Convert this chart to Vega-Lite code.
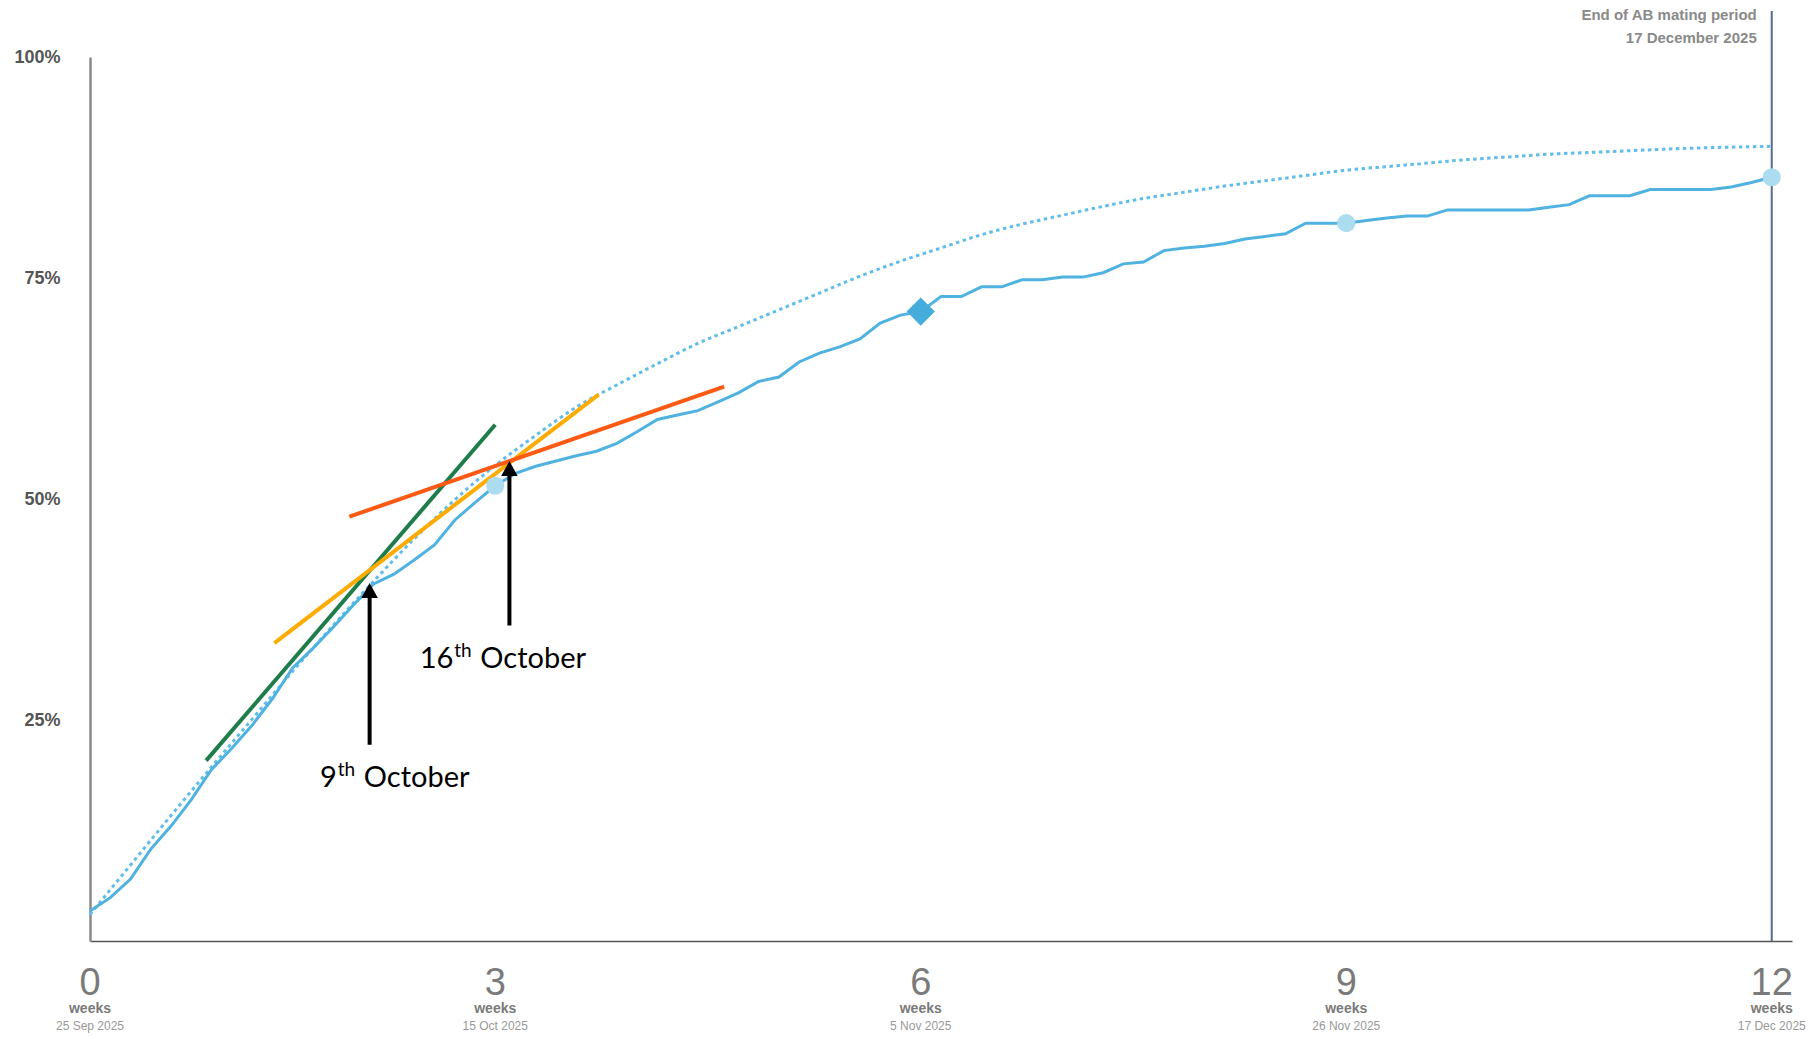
{
  "$schema": "https://vega.github.io/schema/vega-lite/v6.json",
  "width": 1702,
  "height": 884,
  "autosize": {"type": "none"},
  "padding": {"left": 90, "top": 57, "right": 24, "bottom": 96},
  "background": "white",
  "config": {"view": {"stroke": null}},
  "datasets": {
    "projected": [
      {"day": 0, "pct": 3.0}, {"day": 2, "pct": 8.6}, {"day": 4, "pct": 14.2}, {"day": 6, "pct": 19.7},
      {"day": 8, "pct": 25.1}, {"day": 10, "pct": 30.5}, {"day": 12, "pct": 35.7}, {"day": 14, "pct": 40.7},
      {"day": 16, "pct": 45.5}, {"day": 18, "pct": 49.9}, {"day": 20, "pct": 53.8}, {"day": 22, "pct": 57.2},
      {"day": 24, "pct": 60.4}, {"day": 26, "pct": 62.9}, {"day": 28, "pct": 65.3}, {"day": 30, "pct": 67.6},
      {"day": 32, "pct": 69.5}, {"day": 34, "pct": 71.4}, {"day": 36, "pct": 73.3}, {"day": 38, "pct": 75.2},
      {"day": 40, "pct": 76.9}, {"day": 42, "pct": 78.4}, {"day": 44, "pct": 79.9}, {"day": 46, "pct": 81.1},
      {"day": 48, "pct": 82.1}, {"day": 50, "pct": 83.1}, {"day": 52, "pct": 84.0}, {"day": 54, "pct": 84.7},
      {"day": 56, "pct": 85.4}, {"day": 58, "pct": 86.0}, {"day": 60, "pct": 86.6}, {"day": 62, "pct": 87.2},
      {"day": 64, "pct": 87.6}, {"day": 66, "pct": 88.0}, {"day": 68, "pct": 88.4}, {"day": 70, "pct": 88.7},
      {"day": 72, "pct": 89.0}, {"day": 74, "pct": 89.2}, {"day": 76, "pct": 89.4}, {"day": 78, "pct": 89.6},
      {"day": 80, "pct": 89.75}, {"day": 82, "pct": 89.85}, {"day": 83, "pct": 89.9}
    ],
    "observed": [
      {"day": 0, "pct": 3.4}, {"day": 1, "pct": 4.9}, {"day": 2, "pct": 7.0}, {"day": 3, "pct": 10.4},
      {"day": 4, "pct": 13.0}, {"day": 5, "pct": 16.0}, {"day": 6, "pct": 19.4}, {"day": 7, "pct": 21.8},
      {"day": 8, "pct": 24.4}, {"day": 9, "pct": 27.4}, {"day": 10, "pct": 30.9}, {"day": 11, "pct": 33.1},
      {"day": 12, "pct": 35.5}, {"day": 13, "pct": 38.0}, {"day": 14, "pct": 40.4}, {"day": 15, "pct": 41.5},
      {"day": 16, "pct": 43.1}, {"day": 17, "pct": 44.8}, {"day": 18, "pct": 47.6}, {"day": 19, "pct": 49.6},
      {"day": 20, "pct": 51.5}, {"day": 21, "pct": 52.9}, {"day": 22, "pct": 53.7}, {"day": 23, "pct": 54.3},
      {"day": 24, "pct": 54.9}, {"day": 25, "pct": 55.4}, {"day": 26, "pct": 56.3}, {"day": 27, "pct": 57.6},
      {"day": 28, "pct": 59.0}, {"day": 29, "pct": 59.5}, {"day": 30, "pct": 60.0}, {"day": 31, "pct": 61.0},
      {"day": 32, "pct": 62.0}, {"day": 33, "pct": 63.3}, {"day": 34, "pct": 63.8}, {"day": 35, "pct": 65.5},
      {"day": 36, "pct": 66.5}, {"day": 37, "pct": 67.2}, {"day": 38, "pct": 68.1}, {"day": 39, "pct": 69.9},
      {"day": 40, "pct": 70.8}, {"day": 41, "pct": 71.2}, {"day": 42, "pct": 72.9}, {"day": 43, "pct": 72.9},
      {"day": 44, "pct": 74.0}, {"day": 45, "pct": 74.0}, {"day": 46, "pct": 74.8}, {"day": 47, "pct": 74.8},
      {"day": 48, "pct": 75.1}, {"day": 49, "pct": 75.1}, {"day": 50, "pct": 75.6}, {"day": 51, "pct": 76.6},
      {"day": 52, "pct": 76.8}, {"day": 53, "pct": 78.1}, {"day": 54, "pct": 78.4}, {"day": 55, "pct": 78.6},
      {"day": 56, "pct": 78.9}, {"day": 57, "pct": 79.4}, {"day": 58, "pct": 79.7}, {"day": 59, "pct": 80.0},
      {"day": 60, "pct": 81.2}, {"day": 61, "pct": 81.2}, {"day": 62, "pct": 81.2}, {"day": 63, "pct": 81.5},
      {"day": 64, "pct": 81.8}, {"day": 65, "pct": 82.0}, {"day": 66, "pct": 82.0}, {"day": 67, "pct": 82.7},
      {"day": 68, "pct": 82.7}, {"day": 69, "pct": 82.7}, {"day": 70, "pct": 82.7}, {"day": 71, "pct": 82.7},
      {"day": 72, "pct": 83.0}, {"day": 73, "pct": 83.3}, {"day": 74, "pct": 84.3}, {"day": 75, "pct": 84.3},
      {"day": 76, "pct": 84.3}, {"day": 77, "pct": 85.0}, {"day": 78, "pct": 85.0}, {"day": 79, "pct": 85.0},
      {"day": 80, "pct": 85.0}, {"day": 81, "pct": 85.3}, {"day": 82, "pct": 85.8}, {"day": 83, "pct": 86.4}
    ],
    "tangents": [
      {"series": "green", "day": 5.73, "pct": 20.4}, {"series": "green", "day": 20.0, "pct": 58.4},
      {"series": "orange", "day": 9.1, "pct": 33.7}, {"series": "orange", "day": 25.1, "pct": 61.8},
      {"series": "red", "day": 12.8, "pct": 48.0}, {"series": "red", "day": 31.3, "pct": 62.7}
    ],
    "circles": [
      {"day": 20, "pct": 51.5}, {"day": 62, "pct": 81.2}, {"day": 83, "pct": 86.4}
    ],
    "diamond": [{"day": 41, "pct": 71.2}],
    "arrows": [
      {"day": 13.8, "base": 22.2, "neck": 39.3, "tip": 40.5},
      {"day": 20.7, "base": 35.7, "neck": 53.1, "tip": 54.3}
    ],
    "notes": [
      {"day": 12.18, "pct": 17.45, "num": "9"},
      {"day": 17.93, "pct": 30.85, "num": "16"}
    ],
    "ticks": [
      {"day": 0, "n": "0", "d": "25 Sep 2025"},
      {"day": 20, "n": "3", "d": "15 Oct 2025"},
      {"day": 41, "n": "6", "d": "5 Nov 2025"},
      {"day": 62, "n": "9", "d": "26 Nov 2025"},
      {"day": 83, "n": "12", "d": "17 Dec 2025"}
    ],
    "end": [{"day": 83, "l1": "End of AB mating period", "l2": "17 December 2025"}]
  },
  "layer": [
    {
      "data": {"name": "end"},
      "mark": {"type": "rule", "color": "#56698f", "strokeWidth": 2},
      "encoding": {
        "x": {"field": "day", "type": "quantitative", "scale": {"domain": [0, 84], "nice": false, "zero": true},
          "axis": {"domain": true, "domainColor": "#555555", "domainWidth": 1.5, "labels": false, "ticks": false, "grid": false, "title": null}},
        "y": {"datum": 0, "type": "quantitative", "scale": {"domain": [0, 100], "nice": false},
          "axis": {"values": [25, 50, 75, 100], "labelExpr": "datum.value + '%'", "domain": true, "domainColor": "#8a8a8a", "domainWidth": 2.5,
            "ticks": false, "tickSize": 0, "grid": false, "title": null, "labelPadding": 30, "labelFont": "Liberation Sans",
            "labelFontSize": 18, "labelFontWeight": "bold", "labelColor": "#555555"}},
        "y2": {"datum": 105.2}
      }
    },
    {
      "data": {"name": "projected"},
      "mark": {"type": "line", "color": "#62bde8", "strokeWidth": 3, "strokeDash": [3.5, 3.5], "interpolate": "monotone"},
      "encoding": {
        "x": {"field": "day", "type": "quantitative"},
        "y": {"field": "pct", "type": "quantitative"}
      }
    },
    {
      "data": {"name": "observed"},
      "mark": {"type": "line", "color": "#4fb2e0", "strokeWidth": 3},
      "encoding": {
        "x": {"field": "day", "type": "quantitative"},
        "y": {"field": "pct", "type": "quantitative"}
      }
    },
    {
      "data": {"name": "tangents"},
      "mark": {"type": "line", "strokeWidth": 4, "strokeCap": "butt"},
      "encoding": {
        "x": {"field": "day", "type": "quantitative"},
        "y": {"field": "pct", "type": "quantitative"},
        "color": {"field": "series", "type": "nominal", "legend": null,
          "scale": {"domain": ["green", "orange", "red"], "range": ["#1e7d4a", "#ffab00", "#ff5a14"]}}
      }
    },
    {
      "data": {"name": "circles"},
      "mark": {"type": "point", "shape": "circle", "filled": true, "size": 330, "color": "#acdcf0", "opacity": 1},
      "encoding": {
        "x": {"field": "day", "type": "quantitative"},
        "y": {"field": "pct", "type": "quantitative"}
      }
    },
    {
      "data": {"name": "diamond"},
      "mark": {"type": "point", "shape": "diamond", "filled": true, "size": 800, "color": "#45addb", "opacity": 1, "strokeJoin": "round"},
      "encoding": {
        "x": {"field": "day", "type": "quantitative"},
        "y": {"field": "pct", "type": "quantitative"}
      }
    },
    {
      "data": {"name": "arrows"},
      "mark": {"type": "rule", "color": "#000000", "strokeWidth": 4},
      "encoding": {
        "x": {"field": "day", "type": "quantitative"},
        "y": {"field": "base", "type": "quantitative"},
        "y2": {"field": "neck"}
      }
    },
    {
      "data": {"name": "arrows"},
      "mark": {"type": "point", "shape": "M0,0L0.55,1L-0.55,1Z", "filled": true, "size": 900, "color": "#000000", "opacity": 1},
      "encoding": {
        "x": {"field": "day", "type": "quantitative"},
        "y": {"field": "tip", "type": "quantitative"}
      }
    },
    {
      "data": {"name": "notes"},
      "mark": {"type": "text", "align": "right", "baseline": "alphabetic", "font": "Lato", "fontSize": 29, "color": "#000000"},
      "encoding": {
        "x": {"field": "day", "type": "quantitative"},
        "y": {"field": "pct", "type": "quantitative"},
        "text": {"field": "num"}
      }
    },
    {
      "data": {"name": "notes"},
      "mark": {"type": "text", "align": "left", "baseline": "alphabetic", "font": "Lato", "fontSize": 19, "dx": 1, "dy": -11, "color": "#000000", "text": "th"},
      "encoding": {
        "x": {"field": "day", "type": "quantitative"},
        "y": {"field": "pct", "type": "quantitative"}
      }
    },
    {
      "data": {"name": "notes"},
      "mark": {"type": "text", "align": "left", "baseline": "alphabetic", "font": "Lato", "fontSize": 29, "dx": 27, "color": "#000000", "text": "October"},
      "encoding": {
        "x": {"field": "day", "type": "quantitative"},
        "y": {"field": "pct", "type": "quantitative"}
      }
    },
    {
      "data": {"name": "ticks"},
      "mark": {"type": "text", "align": "center", "baseline": "middle", "font": "Liberation Sans", "fontSize": 38, "dy": 43, "color": "#7a7a7a"},
      "encoding": {
        "x": {"field": "day", "type": "quantitative"},
        "y": {"datum": 0, "type": "quantitative"},
        "text": {"field": "n"}
      }
    },
    {
      "data": {"name": "ticks"},
      "mark": {"type": "text", "align": "center", "baseline": "middle", "font": "Liberation Sans", "fontSize": 14, "fontWeight": "bold", "dy": 68, "color": "#7a7a7a", "text": "weeks"},
      "encoding": {
        "x": {"field": "day", "type": "quantitative"},
        "y": {"datum": 0, "type": "quantitative"}
      }
    },
    {
      "data": {"name": "ticks"},
      "mark": {"type": "text", "align": "center", "baseline": "middle", "font": "Liberation Sans", "fontSize": 12, "dy": 85, "color": "#999999"},
      "encoding": {
        "x": {"field": "day", "type": "quantitative"},
        "y": {"datum": 0, "type": "quantitative"},
        "text": {"field": "d"}
      }
    },
    {
      "data": {"name": "end"},
      "mark": {"type": "text", "align": "right", "baseline": "middle", "font": "Liberation Sans", "fontSize": 15, "fontWeight": "bold", "dx": -15, "dy": -42, "color": "#8a8a8a"},
      "encoding": {
        "x": {"field": "day", "type": "quantitative"},
        "y": {"datum": 100, "type": "quantitative"},
        "text": {"field": "l1"}
      }
    },
    {
      "data": {"name": "end"},
      "mark": {"type": "text", "align": "right", "baseline": "middle", "font": "Liberation Sans", "fontSize": 15, "fontWeight": "bold", "dx": -15, "dy": -19, "color": "#8a8a8a"},
      "encoding": {
        "x": {"field": "day", "type": "quantitative"},
        "y": {"datum": 100, "type": "quantitative"},
        "text": {"field": "l2"}
      }
    }
  ]
}
